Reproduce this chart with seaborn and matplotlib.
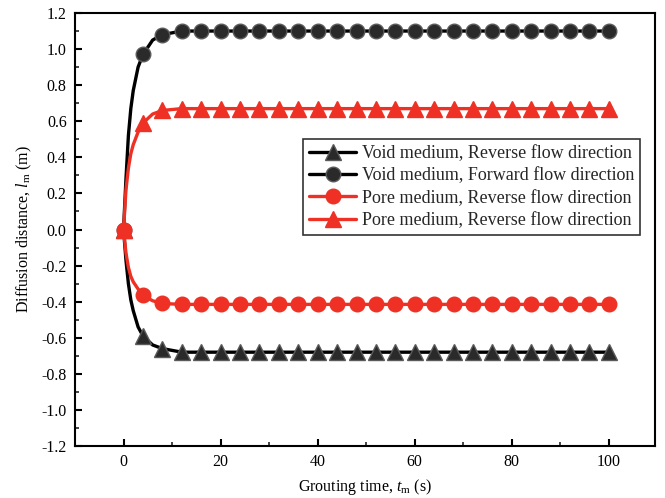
import numpy as np
import pandas as pd
import matplotlib
matplotlib.use("Agg")
import matplotlib.pyplot as plt
import seaborn as sns
from matplotlib.ticker import MultipleLocator, FormatStrFormatter

# ---- data ----
t_curve = [0, 0.5, 1, 1.5, 2, 3, 4, 6, 8, 12, 16, 20, 24, 28, 32, 36, 40, 44, 48,
           52, 56, 60, 64, 68, 72, 76, 80, 84, 88, 92, 96, 100]
void_reverse = [0, -0.17, -0.30, -0.39, -0.45, -0.54, -0.59, -0.64, -0.66, -0.68] + [-0.68] * 22
void_forward = [0, 0.28, 0.52, 0.67, 0.77, 0.90, 0.97, 1.05, 1.08, 1.10] + [1.10] * 22
pore_reverse = [0, -0.13, -0.21, -0.26, -0.29, -0.33, -0.365, -0.395, -0.41, -0.415] + [-0.415] * 22
pore_forward = [0, 0.22, 0.34, 0.42, 0.47, 0.54, 0.59, 0.64, 0.66, 0.67] + [0.67] * 22

labels = ["Void medium, Reverse flow direction",
          "Void medium, Forward flow direction",
          "Pore medium, Reverse flow direction",
          "Pore medium, Reverse flow direction"]

marker_times = [0, 4, 8, 12, 16, 20, 24, 28, 32, 36, 40, 44, 48, 52, 56, 60,
                64, 68, 72, 76, 80, 84, 88, 92, 96, 100]

sns.set_theme(style="white")
plt.rcParams['font.family'] = ['Liberation Serif', 'DejaVu Serif']
plt.rcParams['mathtext.fontset'] = 'custom'
plt.rcParams['mathtext.rm'] = 'Liberation Serif'
plt.rcParams['mathtext.it'] = 'Liberation Serif:italic'
plt.rcParams['axes.unicode_minus'] = False

fig = plt.figure(figsize=(6.65, 4.98), dpi=100)
ax = fig.add_axes([75/665, 1 - 446/498, 580/665, 433/498])

red = '#ee3124'
series = [
    (void_reverse, 'black', '^', '#2a2a2a', '#5a5a5a'),
    (void_forward, 'black', 'o', '#2a2a2a', '#5a5a5a'),
    (pore_reverse, red, 'o', red, red),
    (pore_forward, red, '^', red, red),
]
mark_idx = [t_curve.index(t) for t in marker_times]

for (vals, col, mk, mfc, mec), lab in zip(series, labels):
    df = pd.DataFrame({'t': t_curve, 'v': vals})
    sns.lineplot(data=df, x='t', y='v', ax=ax, color=col, lw=2.4,
                 marker=mk, markersize=10.5 if mk == 'o' else 11,
                 markerfacecolor=mfc, markeredgecolor=mec, markeredgewidth=1.0,
                 markevery=mark_idx, label=lab, estimator=None, sort=False)

ax.set_xlim(-10, 109.5)
ax.set_ylim(-1.2, 1.2)
ax.xaxis.set_major_locator(MultipleLocator(20))
ax.xaxis.set_minor_locator(MultipleLocator(10))
ax.yaxis.set_major_locator(MultipleLocator(0.2))
ax.yaxis.set_minor_locator(MultipleLocator(0.1))
ax.yaxis.set_major_formatter(FormatStrFormatter('%.1f'))
ax.tick_params(axis='both', which='major', direction='in', length=5, width=1.5,
               labelsize=11.5, colors='black', top=False, right=False,
               bottom=True, left=True, pad=6)
ax.tick_params(axis='both', which='minor', direction='in', length=3, width=1.2,
               top=False, right=False, bottom=True, left=True)
for s in ax.spines.values():
    s.set_color('black')
    s.set_linewidth(1.5)

ax.set_xlabel(r'Grouting time, $\mathit{t}_\mathrm{m}$ (s)', fontsize=11.5, color='black', labelpad=5)
ax.set_ylabel(r'Diffusion distance, $\mathit{l}_\mathrm{m}$ (m)', fontsize=11.5, color='black', labelpad=5)

leg = ax.legend(loc='upper right', bbox_to_anchor=(0.975, 0.71), frameon=True,
                fancybox=False, edgecolor='black', fontsize=13, handlelength=2.6,
                handletextpad=0.3, borderpad=0.35, labelspacing=0.3, borderaxespad=0)
leg.get_frame().set_linewidth(1.2)

fig.savefig('out.png', dpi=100)
